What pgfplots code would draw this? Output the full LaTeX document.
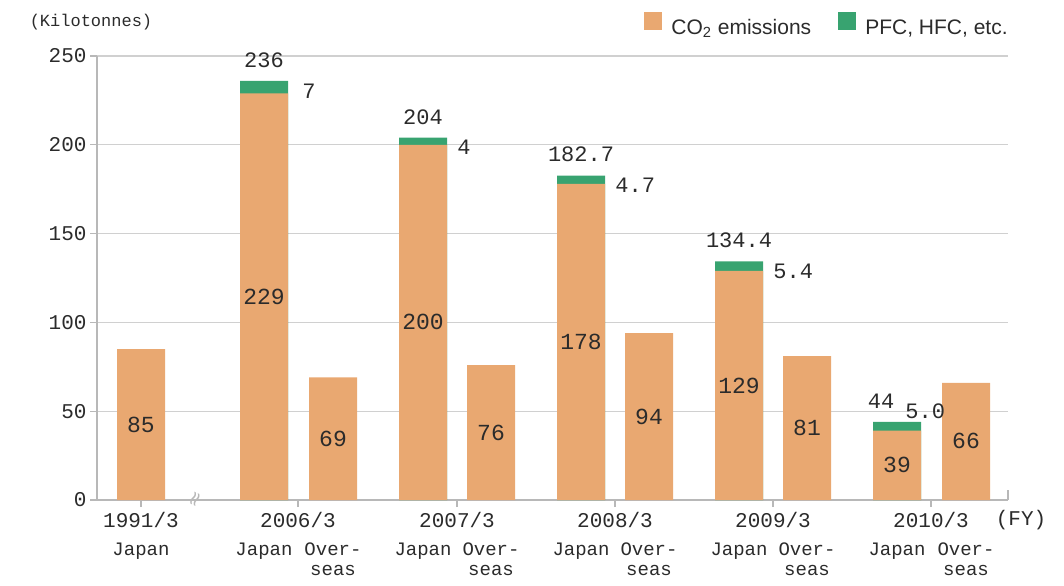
\documentclass[border=0pt]{standalone}
\usepackage{pgfplots}
\usepackage{pgfplotstable}
\pgfplotsset{compat=1.18}
\usepackage{fontspec}
\setmainfont{Liberation Sans}
\newfontfamily\monofont{Liberation Mono}
\newfontfamily\symfont{DejaVu Sans}
\definecolor{co2}{HTML}{E9A871}
\definecolor{pfc}{HTML}{38A370}
\definecolor{gridc}{HTML}{D0D0D0}
\definecolor{axisc}{HTML}{B8B8B8}
\definecolor{txt}{HTML}{2B2B2B}

% CO2 emissions (orange), x = bar centre
\pgfplotstableread{
x   val
141 85
264 229
333 69
423 200
491 76
581 178
649 94
739 129
807 81
897 39
966 66
}\coTable

% Japan totals (CO2 + PFC/HFC), label positions
\pgfplotstableread{
x   total tx  tl    gx  gy    gl
264 236   264 236   302 230.4 7
423 204   423 204   457 198.4 4
581 182.7 581 182.7 615 177.1 4.7
739 134.4 739 134.4 773 128.8 5.4
897 44    881 44    905 50    5.0
}\totTable

\begin{document}
\begin{tikzpicture}[font=\monofont, text=txt]
\begin{axis}[
  scale only axis, width=455.5pt, height=222pt,
  xmin=97, xmax=1008, ymin=0, ymax=250,
  clip=false,
  /pgf/number format/assume math mode=true,
  axis x line*=bottom, axis y line*=left,
  axis line style={axisc, line width=0.6pt},
  tick align=outside,
  major tick length=3.5pt,
  tick style={axisc, line width=0.6pt},
  ytick={0,50,100,150,200,250},
  ymajorgrids, grid style={gridc, line width=0.6pt},
  yticklabel style={font=\fontsize{10.5}{12}\monofont, text=txt, xshift=1.8pt},
  xtick={141,298,457,615,773,931},
  xticklabels={1991/3,2006/3,2007/3,2008/3,2009/3,2010/3},
  xticklabel style={font=\fontsize{10.5}{12}\monofont, text=txt, yshift=1pt},
  extra x ticks={141,264,333,423,491,581,649,739,807,897,966},
  extra x tick labels={Japan,Japan,Over-\\seas,Japan,Over-\\seas,Japan,Over-\\seas,Japan,Over-\\seas,Japan,Over-\\seas},
  extra x tick style={major tick length=0pt,
    xticklabel style={yshift=-19pt, align=center, font=\fontsize{9.5}{10}\monofont, text=txt}},
  legend style={draw=none, fill=none, inner sep=0pt, at={(1,1)}, anchor=east, yshift=14.5pt, xshift=2pt,
    legend columns=-1, font=\fontsize{10.5}{12}\selectfont, text=txt,
    /tikz/every odd column/.append style={column sep=2.5pt},
    /tikz/every even column/.append style={column sep=11.5pt}},
  legend image code/.code={\fill[#1] (0pt,-1pt) rectangle (9pt,8pt);},
]
\addlegendimage{fill=co2, draw=none}
\addlegendentry{CO\textsubscript{2} emissions}
\addlegendimage{fill=pfc, draw=none}
\addlegendentry{PFC, HFC, etc.}

\addplot[ybar, bar width=48, bar shift=0pt, fill=pfc, draw=none, forget plot]
  table[x=x, y=total]{\totTable};
\addplot[ybar, bar width=48, bar shift=0pt, fill=co2, draw=none, forget plot]
  table[x=x, y=val]{\coTable};

% values inside orange bars
\addplot[draw=none, forget plot, nodes near coords, point meta=explicit symbolic,
  every node near coord/.style={anchor=center, text=txt, font=\fontsize{11.5}{12}\monofont}]
  table[x=x, y expr=\thisrow{val}/2, meta=val]{\coTable};
% totals above Japan bars
\addplot[draw=none, forget plot, nodes near coords, point meta=explicit symbolic,
  every node near coord/.style={anchor=south, inner sep=0pt, yshift=6.5pt, text=txt, font=\fontsize{11}{12}\monofont}]
  table[x=tx, y=total, meta=tl]{\totTable};
% PFC/HFC values beside Japan bars
\addplot[draw=none, forget plot, nodes near coords, point meta=explicit symbolic,
  every node near coord/.style={anchor=west, inner sep=0pt, text=txt, font=\fontsize{11}{12}\monofont}]
  table[x=gx, y=gy, meta=gl]{\totTable};

% axis break mark and decorations
\node[rotate=65, text=axisc, inner sep=0pt, font=\fontsize{10}{10}\symfont] at (axis cs:197,0) {≈};
\draw[axisc, line width=0.6pt] (axis cs:1008,0) -- ++(0pt,5pt);
\node[anchor=center, font=\fontsize{10.5}{12}\monofont] at (axis cs:1021,0) [yshift=-10pt] {(FY)};
\node[anchor=center, font=\fontsize{8.5}{10}\monofont] at (axis cs:97,250) [xshift=-3pt, yshift=17pt] {(Kilotonnes)};
\end{axis}
\path (-48.5pt,-42.5pt) rectangle ++(532pt,292.5pt);
\end{tikzpicture}
\end{document}
